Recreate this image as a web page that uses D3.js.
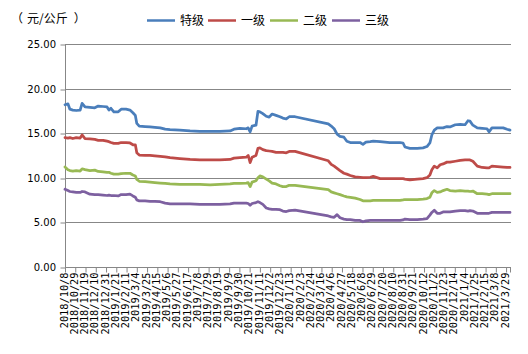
<!DOCTYPE html>
<html><head><meta charset="utf-8">
<script src="https://cdn.jsdelivr.net/npm/d3@7"></script>
<style>
html,body{margin:0;padding:0;background:#fff;}
svg{display:block;}
</style></head>
<body><svg id="c" width="528" height="354"></svg>
<script>
const dates = ["2018-10-08","2018-10-14","2018-10-18","2018-10-24","2018-10-31","2018-11-08","2018-11-12","2018-11-18","2018-11-28","2018-12-08",
"2018-12-15","2018-12-25","2019-01-02","2019-01-06","2019-01-10","2019-01-16","2019-01-25","2019-01-31","2019-02-10","2019-02-18",
"2019-02-24","2019-03-01","2019-03-04","2019-03-09","2019-03-21","2019-03-31","2019-04-10","2019-04-21","2019-05-01","2019-05-11",
"2019-05-31","2019-06-21","2019-07-11","2019-08-01","2019-08-21","2019-09-11","2019-09-19","2019-10-01","2019-10-14","2019-10-18",
"2019-10-22","2019-10-26","2019-11-03","2019-11-07","2019-11-11","2019-11-17","2019-11-24","2019-11-30","2019-12-06","2019-12-14",
"2019-12-22","2019-12-28","2020-01-04","2020-01-10","2020-01-22","2020-03-30","2020-04-05","2020-04-11","2020-04-17","2020-04-23",
"2020-05-01","2020-05-07","2020-05-14","2020-05-24","2020-06-03","2020-06-09","2020-06-15","2020-06-24","2020-06-30","2020-07-14",
"2020-08-03","2020-08-24","2020-08-30","2020-09-03","2020-09-13","2020-09-28","2020-10-10","2020-10-18","2020-10-24","2020-10-28",
"2020-11-02","2020-11-08","2020-11-14","2020-11-20","2020-11-28","2020-12-04","2020-12-15","2020-12-25","2021-01-04","2021-01-10",
"2021-01-14","2021-01-20","2021-01-29","2021-02-08","2021-02-18","2021-02-22","2021-02-28","2021-03-11","2021-03-23","2021-03-31",
"2021-04-06"];

const special = [18.2,18.3,17.7,17.6,17.55,17.6,18.35,17.95,17.9,17.85,
18.05,18.0,17.95,17.6,17.8,17.4,17.4,17.7,17.7,17.6,
17.3,17.0,16.1,15.8,15.75,15.7,15.65,15.6,15.45,15.4,
15.35,15.25,15.2,15.2,15.2,15.25,15.45,15.55,15.5,15.6,
15.15,15.8,15.9,17.45,17.4,17.2,16.9,16.8,17.15,17.0,
16.85,16.7,16.6,16.85,16.85,16.05,15.8,15.5,14.9,14.65,
14.55,14.1,13.95,13.95,13.95,13.75,14.0,14.05,14.1,14.05,
13.95,13.95,13.9,13.45,13.3,13.3,13.35,13.5,13.9,14.8,
15.35,15.6,15.6,15.6,15.75,15.7,15.95,16.0,15.95,16.4,
16.35,15.9,15.6,15.55,15.5,15.15,15.6,15.6,15.6,15.45,
15.35];

const grade1 = [14.5,14.45,14.5,14.4,14.5,14.45,14.8,14.4,14.35,14.3,
14.2,14.2,14.1,14.05,13.95,13.85,13.85,13.95,13.95,13.9,
13.7,13.7,12.8,12.55,12.5,12.5,12.45,12.4,12.35,12.25,
12.15,12.05,12.0,12.0,12.0,12.05,12.2,12.25,12.3,12.5,
11.7,12.3,12.5,13.3,13.35,13.15,13.05,13.0,12.95,12.85,
12.85,12.85,12.8,12.95,12.95,11.9,11.5,11.3,11.05,10.8,
10.5,10.4,10.25,10.1,10.05,10.0,10.0,10.05,10.15,9.9,
9.9,9.9,9.9,9.85,9.75,9.85,9.9,10.0,10.3,10.9,
11.3,11.1,11.45,11.55,11.75,11.75,11.85,11.95,12.0,12.0,
12.0,11.85,11.3,11.15,11.1,11.1,11.3,11.25,11.2,11.15,
11.15];

const grade2 = [11.2,10.9,10.8,10.75,10.8,10.75,11.0,10.9,10.8,10.85,
10.7,10.65,10.6,10.6,10.5,10.4,10.4,10.45,10.5,10.5,
10.3,10.2,9.8,9.6,9.55,9.5,9.45,9.4,9.35,9.3,
9.25,9.25,9.25,9.2,9.25,9.3,9.35,9.35,9.4,9.45,
9.0,9.5,9.65,10.0,10.2,10.1,9.85,9.65,9.4,9.3,
9.1,9.0,9.0,9.15,9.15,8.65,8.4,8.3,8.2,8.1,
7.95,7.85,7.8,7.7,7.55,7.4,7.4,7.4,7.45,7.45,
7.45,7.45,7.5,7.55,7.55,7.55,7.6,7.65,7.8,8.3,
8.55,8.35,8.4,8.55,8.7,8.55,8.5,8.55,8.5,8.5,
8.45,8.5,8.2,8.2,8.15,8.1,8.2,8.2,8.2,8.2,
8.2];

const grade3 = [8.7,8.55,8.45,8.4,8.35,8.35,8.45,8.4,8.15,8.1,
8.1,8.05,8.0,8.05,8.0,8.0,7.95,8.1,8.1,8.15,
7.95,7.8,7.5,7.4,7.4,7.35,7.35,7.3,7.15,7.05,
7.05,7.05,7.0,7.0,7.0,7.05,7.15,7.15,7.15,7.1,
6.9,7.1,7.2,7.3,7.2,7.0,6.6,6.5,6.45,6.45,
6.4,6.25,6.2,6.3,6.35,5.7,5.6,5.55,5.85,5.5,
5.35,5.3,5.3,5.2,5.2,5.05,5.15,5.2,5.2,5.2,
5.2,5.2,5.25,5.35,5.3,5.3,5.35,5.4,5.8,6.1,
6.35,6.0,6.0,6.15,6.15,6.15,6.25,6.3,6.3,6.25,
6.3,6.25,6.0,6.0,6.0,6.0,6.1,6.1,6.1,6.1,
6.1];

const seriesNames = ["特级","一级","二级","三级"];
const seriesColors = ["#4a7ebb","#be4b48","#98b954","#7d60a0"];
const tickLabels = ["2018/10/8","2018/10/29","2018/11/19","2018/12/10","2018/12/31","2019/1/21","2019/2/11","2019/3/4","2019/3/25","2019/4/15",
"2019/5/6","2019/5/27","2019/6/17","2019/7/8","2019/7/29","2019/8/19","2019/9/9","2019/9/30","2019/10/21","2019/11/11",
"2019/12/2","2019/12/23","2020/1/13","2020/2/3","2020/2/24","2020/3/16","2020/4/6","2020/4/27","2020/5/18","2020/6/8",
"2020/6/29","2020/7/20","2020/8/10","2020/8/31","2020/9/21","2020/10/12","2020/11/2","2020/11/23","2020/12/14","2021/1/4",
"2021/1/25","2021/2/15","2021/3/8","2021/3/29"];
const yTicks = [0,5,10,15,20,25];
const unitLabel = ["（","元/公斤","）"];

const parseISO = d3.timeParse("%Y-%m-%d");
const parseTick = d3.timeParse("%Y/%m/%d");
const xs = dates.map(parseISO);
const tickDates = tickLabels.map(parseTick);
const endDate = parseISO("2021-04-06");

const svg = d3.select("#c");
svg.append("rect").attr("width",528).attr("height",354).attr("fill","#fff");

const x = d3.scaleTime().domain([xs[0], endDate]).range([65, 510]);
const y = d3.scaleLinear().domain([0,25]).range([266.7, 44.2]);
const gridColor = "#878787";

// gridlines
svg.append("g").selectAll("line").data(yTicks.filter(v=>v>0)).join("line")
  .attr("x1",65).attr("x2",511)
  .attr("y1",d=>Math.round(y(d))+0.5).attr("y2",d=>Math.round(y(d))+0.5)
  .attr("stroke",gridColor).attr("stroke-width",1);

// y axis
const yAxis = svg.append("g").attr("transform","translate(65.5,0)")
  .call(d3.axisLeft(y).tickValues(yTicks).tickSize(5).tickFormat(d3.format(".2f")));
yAxis.select(".domain").attr("stroke",gridColor).attr("d","M0,"+(Math.round(y(25))+0.5)+"V"+(Math.round(y(0))+0.5));
yAxis.selectAll(".tick line").attr("stroke",gridColor).attr("transform",d=>"translate(0,"+(Math.round(y(d))+0.5-y(d))+")");
yAxis.selectAll(".tick text").attr("font-family","'DejaVu Sans',sans-serif").attr("font-size","10px").attr("fill","#000").attr("x",-9.5).attr("dy","0.34em");

// x axis
const x0 = Math.round(y(0))+0.5;
const xAxis = svg.append("g").attr("transform","translate(0,"+x0+")")
  .call(d3.axisBottom(x).tickValues(tickDates.concat([endDate])).tickSize(5)
    .tickFormat((d,i)=> i < tickLabels.length ? tickLabels[i] : ""));
xAxis.select(".domain").attr("stroke",gridColor).attr("d","M65,0H511");
xAxis.selectAll(".tick line").attr("stroke",gridColor);
xAxis.selectAll(".tick text")
  .attr("font-family","'DejaVu Sans Mono',monospace").attr("font-size","10.3px").attr("fill","#000")
  .attr("transform","rotate(-90)").attr("text-anchor","end")
  .attr("x",-5).attr("y",-1.5).attr("dy","0.35em");

// lines
const allSeries = [special, grade1, grade2, grade3];
const line = d3.line().x((d,i)=>x(xs[i])).y(d=>y(d));
svg.append("g").selectAll("path").data(allSeries).join("path")
  .attr("d",d=>line(d)).attr("fill","none")
  .attr("stroke",(d,i)=>seriesColors[i]).attr("stroke-width",2.75)
  .attr("stroke-linejoin","round").attr("stroke-linecap","round");

// title
const t = svg.append("text").attr("x",11).attr("y",23)
  .attr("font-family","'Noto Sans CJK SC',sans-serif").attr("font-size","12px").attr("fill","#000");
const titleDx = [0,4,6];
t.selectAll("tspan").data(unitLabel).join("tspan")
  .attr("dx",(d,i)=>titleDx[i]).text(d=>d);

// legend
const legendX = [147,208,270,332];
const lg = svg.append("g").selectAll("g").data(seriesNames).join("g")
  .attr("transform",(d,i)=>"translate("+legendX[i]+",0)");
lg.append("line").attr("x1",0).attr("x2",28).attr("y1",20.5).attr("y2",20.5)
  .attr("stroke",(d,i)=>seriesColors[i]).attr("stroke-width",2.5);
lg.append("text").attr("x",33).attr("y",25).text(d=>d)
  .attr("font-family","'Noto Sans CJK SC',sans-serif").attr("font-size","12px").attr("fill","#000");
</script></body></html>
